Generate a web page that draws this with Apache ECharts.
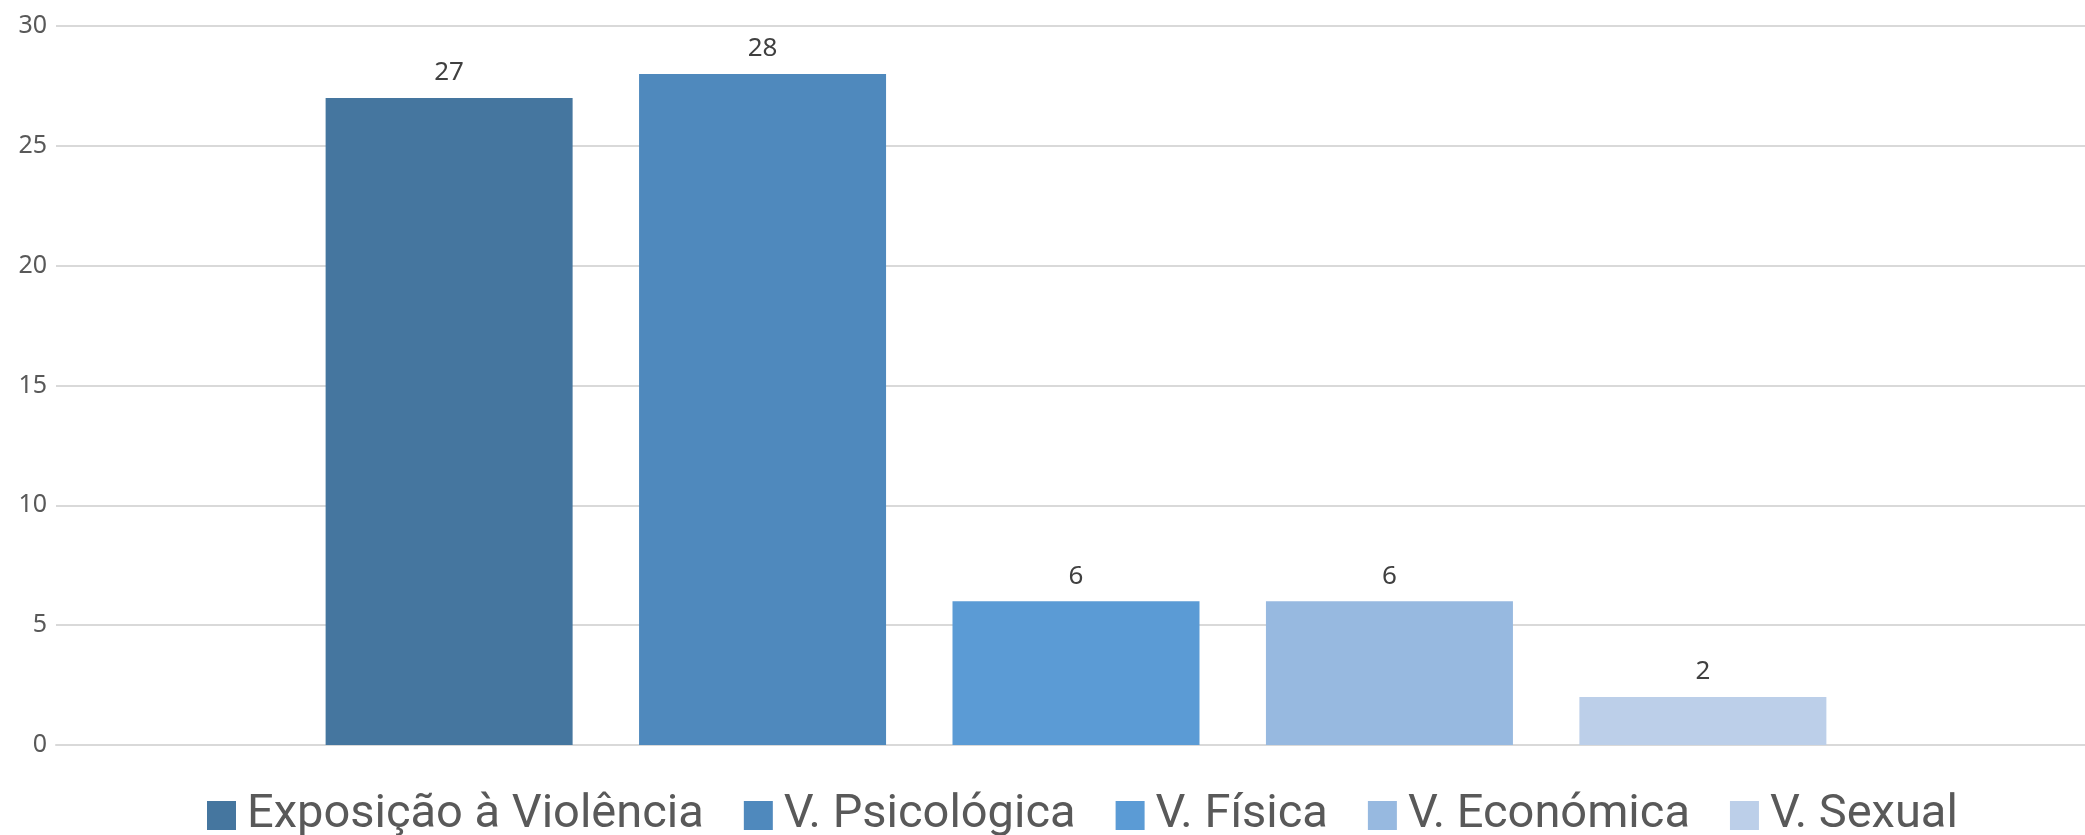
<!DOCTYPE html>
<html>
<head>
<meta charset="utf-8">
<script src="https://cdn.jsdelivr.net/npm/echarts@6/dist/echarts.min.js"></script>
<style>
  html, body { margin: 0; padding: 0; background: #fff; overflow: hidden; }
  #main { width: 2096px; height: 835px; }
</style>
</head>
<body>
<div id="main"></div>
<script>
var dom = document.getElementById("main");
var myChart = echarts.init(dom);

// tipos de violência e número de casos
var tipos = ['Exposição à Violência', 'V. Psicológica', 'V. Física', 'V. Económica', 'V. Sexual'];
var casos = [27, 28, 6, 6, 2];
var cores = ['#45769f', '#4f89bd', '#5b9bd5', '#97b9e0', '#bccfe9'];
var yTicks = { min: 0, max: 30, interval: 5 };

var series = tipos.map(function (nome, i) {
    return {
        name: nome,
        type: 'bar',
        data: [casos[i]],
        barWidth: 247,
        barGap: '26.9%',
        itemStyle: { color: cores[i] },
        label: {
            show: true,
            position: 'top',
            distance: 12,
            color: '#404040',
            fontSize: 26,
            fontFamily: 'Noto Sans'
        }
    };
});

var option = {
    animation: false,
    grid: {
        left: 56,
        right: 0,
        top: 26,
        bottom: 90
    },
    legend: {
        top: 787,
        left: 202,
        itemWidth: 29,
        itemHeight: 29,
        itemGap: 40,
        icon: 'rect',
        textStyle: {
            fontSize: 47,
            lineHeight: 47,
            color: '#595959',
            fontFamily: 'Roboto',
            padding: [0, 0, 0, 6]
        },
        data: tipos
    },
    xAxis: {
        type: 'category',
        data: [''],
        axisLine: { show: true, lineStyle: { color: '#d9d9d9', width: 2 } },
        axisTick: { show: false },
        axisLabel: { show: false }
    },
    yAxis: {
        type: 'value',
        min: yTicks.min,
        max: yTicks.max,
        interval: yTicks.interval,
        axisLine: { show: false },
        axisTick: { show: false },
        axisLabel: {
            color: '#595959',
            fontSize: 25,
            fontFamily: 'Noto Sans',
            margin: 9
        },
        splitLine: { lineStyle: { color: '#d9d9d9', width: 2 } }
    },
    series: series
};

myChart.setOption(option, true);
</script>
</body>
</html>
